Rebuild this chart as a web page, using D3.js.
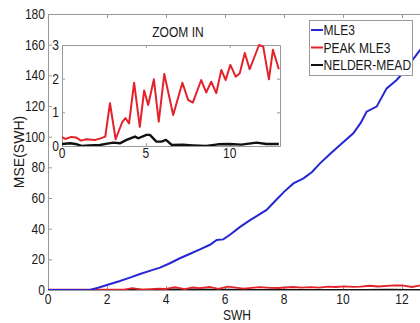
<!DOCTYPE html>
<html><head><meta charset="utf-8">
<script src="https://cdn.jsdelivr.net/npm/d3@7"></script>
<style>
body{margin:0;background:#fff}
svg{display:block}
text{font-family:"Liberation Sans",Arial,Helvetica,sans-serif;fill:#1a1a1a}
</style></head><body>
<script>
// ---------- data ----------
const swhBlue = [0,1.0,1.42,1.7,2.0,2.44,2.8,3.12,3.5,3.8,4.15,4.47,4.8,5.15,5.49,5.72,5.94,6.17,6.5,6.85,7.1,7.41,7.7,8.0,8.32,8.66,8.95,9.22,9.55,9.9,10.35,10.6,10.8,11.14,11.48,11.82,12.05,12.27,12.61,13];
const mle3    = [0,0,0,1.5,3.3,5.9,8.2,10.4,12.8,14.6,17.6,20.7,23.5,26.5,29.5,32.6,33,36,41,45.6,48.5,52.2,58,64,69.5,72.8,77,82.6,88.5,94.6,102.2,109,116.3,119.6,131.5,137,142,147.8,156.5,165];

const swhPeak  = [0,0.2,0.55,0.85,1.13,1.45,1.95,2.25,2.58,2.86,3.2,3.6,3.78,4.0,4.3,4.64,4.9,5.14,5.48,5.77,6.1,6.63,7.18,7.52,7.8,8.3,8.6,8.9,9.2,9.5,9.76,10.04,10.36,10.6,10.9,11.19,11.75,12.0,12.34,12.58,12.93];
const peakMle3 = [0.26,0.21,0.27,0.25,0.16,0.2,0.18,0.22,0.28,1.27,0.2,0.72,0.83,0.67,1.88,0.57,1.65,1.22,1.98,0.72,2.14,0.92,1.88,1.37,1.29,1.96,1.59,1.91,1.57,2.26,1.96,2.41,2.06,2.16,2.76,2.28,3.0,2.95,1.98,2.86,2.28];

const swhNM      = [0,0.5,0.8,1.17,1.6,2.27,2.7,3.06,3.45,3.85,4.35,4.55,5.04,5.24,5.63,5.93,6.2,6.55,7.2,7.8,8.6,9.3,10.0,10.7,11.6,12.2,12.93];
const nelderMead = [0.06,0.08,0.06,0.0,0.02,0.03,0.07,0.1,0.08,0.18,0.28,0.23,0.33,0.33,0.13,0.13,0.18,0.03,0.04,0.02,0.0,0.05,0.06,0.04,0.1,0.06,0.06];

const xTicksMain  = [0,2,4,6,8,10,12];
const yTicksMain  = [0,20,40,60,80,100,120,140,160,180];
const xTicksInset = [0,5,10];
const yTicksInset = [0,1,2,3];
const seriesNames = ["MLE3","PEAK MLE3","NELDER-MEAD"];

// ---------- setup ----------
const W = 420, H = 323;
const FS = 14, SX = 0.86;
const AX = "#9a9a9a";
const C_BLUE = "#2626d4", C_RED = "#e4222a", C_BLACK = "#111";

const svg = d3.select("body").append("svg").attr("width", W).attr("height", H);

function label(g, x, y, txt, anchor) {
  return g.append("text")
    .attr("transform", `translate(${x},${y}) scale(${SX},1)`)
    .attr("text-anchor", anchor)
    .attr("font-size", FS)
    .text(txt);
}
function styleAxis(sel) {
  sel.selectAll("path.domain").attr("stroke", AX).attr("stroke-width", 1);
  sel.selectAll(".tick line").attr("stroke", AX).attr("stroke-width", 1);
  sel.selectAll("text").remove();
}

// ---------- main axes ----------
const x = d3.scaleLinear().domain([0, 13]).range([48, 431.5]);
const y = d3.scaleLinear().domain([0, 180]).range([290, 14]);

const main = svg.append("g");
const [xl, xr] = x.range(), [yb, yt] = y.range();

main.append("g").attr("transform", `translate(0,${yb})`)
  .call(d3.axisBottom(x).tickValues(xTicksMain).tickSizeInner(-4).tickSizeOuter(0).tickFormat(""))
  .call(styleAxis);
main.append("g").attr("transform", `translate(0,${yt})`)
  .call(d3.axisTop(x).tickValues(xTicksMain).tickSizeInner(-4).tickSizeOuter(0).tickFormat(""))
  .call(styleAxis);
main.append("g").attr("transform", `translate(${xl},0)`)
  .call(d3.axisLeft(y).tickValues(yTicksMain).tickSizeInner(-4).tickSizeOuter(0).tickFormat(""))
  .call(styleAxis);
main.append("g").attr("transform", `translate(${xr},0)`)
  .call(d3.axisRight(y).tickValues(yTicksMain).tickSizeInner(-4).tickSizeOuter(0).tickFormat(""))
  .call(styleAxis);

xTicksMain.forEach(t => label(main, x(t), 303.5, String(t), "middle"));
yTicksMain.forEach(t => label(main, 45, y(t) + 5, String(t), "end"));
label(main, 237, 319.5, "SWH", "middle");
main.append("text")
  .attr("transform", `translate(24,152) rotate(-90)`)
  .attr("text-anchor", "middle")
  .attr("font-size", FS)
  .text("MSE(SWH)");

svg.append("clipPath").attr("id", "clipMain").append("rect")
  .attr("x", xl).attr("y", yt).attr("width", xr - xl).attr("height", yb - yt);

const lineMain = (xs, ys) => d3.line().x((d, i) => x(xs[i])).y(d => y(d))(ys);
const plotMain = main.append("g").attr("clip-path", "url(#clipMain)");
plotMain.append("path").attr("d", lineMain(swhNM, nelderMead)).attr("fill", "none").attr("stroke", C_BLACK).attr("stroke-width", 2);
plotMain.append("path").attr("d", lineMain(swhPeak, peakMle3)).attr("fill", "none").attr("stroke", C_RED).attr("stroke-width", 1.8);
plotMain.append("path").attr("d", lineMain(swhBlue, mle3)).attr("fill", "none").attr("stroke", C_BLUE).attr("stroke-width", 2);

// ---------- inset ----------
const xi = d3.scaleLinear().domain([0, 13]).range([62, 280]);
const yi = d3.scaleLinear().domain([0, 3]).range([146, 45]);
const inset = svg.append("g");
const [ixl, ixr] = xi.range(), [iyb, iyt] = yi.range();

inset.append("rect").attr("x", ixl).attr("y", iyt).attr("width", ixr - ixl).attr("height", iyb - iyt).attr("fill", "#fff");
inset.append("g").attr("transform", `translate(0,${iyb})`)
  .call(d3.axisBottom(xi).tickValues(xTicksInset).tickSizeInner(-3).tickSizeOuter(0).tickFormat(""))
  .call(styleAxis);
inset.append("g").attr("transform", `translate(0,${iyt})`)
  .call(d3.axisTop(xi).tickValues(xTicksInset).tickSizeInner(-3).tickSizeOuter(0).tickFormat(""))
  .call(styleAxis);
inset.append("g").attr("transform", `translate(${ixl},0)`)
  .call(d3.axisLeft(yi).tickValues(yTicksInset).tickSizeInner(-3).tickSizeOuter(0).tickFormat(""))
  .call(styleAxis);
inset.append("g").attr("transform", `translate(${ixr},0)`)
  .call(d3.axisRight(yi).tickValues(yTicksInset).tickSizeInner(-3).tickSizeOuter(0).tickFormat(""))
  .call(styleAxis);

xTicksInset.forEach(t => label(inset, xi(t), 158, String(t), "middle"));
yTicksInset.forEach(t => label(inset, 59, yi(t) + 5, String(t), "end"));
label(inset, 178, 37, "ZOOM IN", "middle");

svg.append("clipPath").attr("id", "clipInset").append("rect")
  .attr("x", ixl).attr("y", iyt - 2).attr("width", ixr - ixl).attr("height", iyb - iyt + 2);
const lineInset = (xs, ys) => d3.line().x((d, i) => xi(xs[i])).y(d => yi(d))(ys);
const plotInset = inset.append("g").attr("clip-path", "url(#clipInset)");
plotInset.append("path").attr("d", lineInset(swhPeak, peakMle3)).attr("fill", "none").attr("stroke", C_RED).attr("stroke-width", 2).attr("stroke-linejoin", "round");
plotInset.append("path").attr("d", lineInset(swhNM, nelderMead)).attr("fill", "none").attr("stroke", C_BLACK).attr("stroke-width", 2.4).attr("stroke-linejoin", "round");

// ---------- legend ----------
const legend = svg.append("g");
legend.append("rect").attr("x", 309.5).attr("y", 20.5).attr("width", 103).attr("height", 55)
  .attr("fill", "#fff").attr("stroke", AX);
const legColors = [C_BLUE, C_RED, C_BLACK];
seriesNames.forEach((n, i) => {
  const cy = 30 + i * 17.5;
  legend.append("line").attr("x1", 311).attr("x2", 323).attr("y1", cy).attr("y2", cy)
    .attr("stroke", legColors[i]).attr("stroke-width", 2);
  label(legend, 323.5, cy + 5, n, "start");
});
</script>
</body></html>
